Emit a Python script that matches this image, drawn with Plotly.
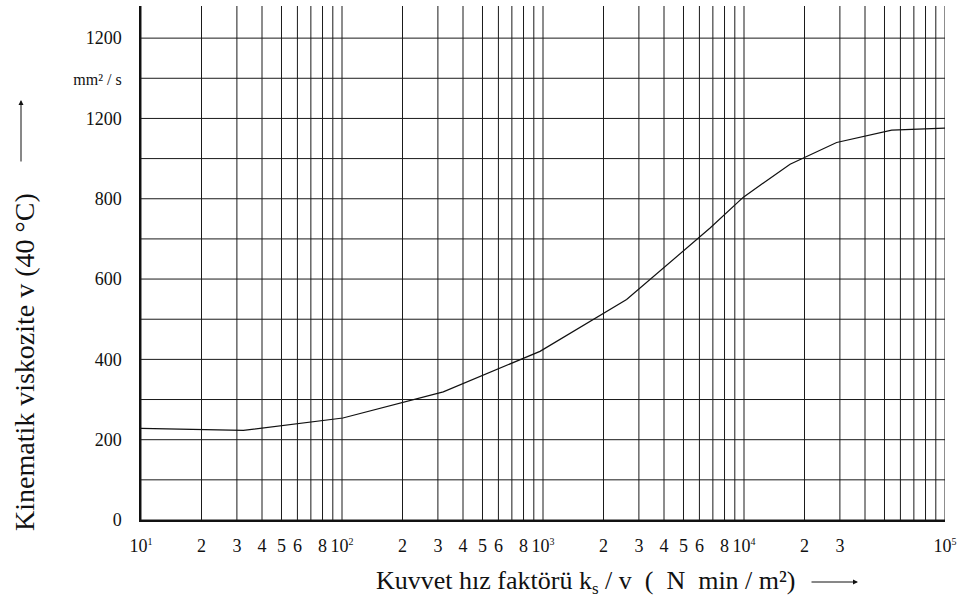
import plotly.graph_objects as go

# Curve data
force_speed_factor = [10, 32.3, 101, 319, 966, 2606, 6780, 9930, 16950, 28900, 54300, 100000]
viscosity = [228, 223, 254, 319, 420, 549, 727, 804, 886, 940, 971, 976]

# Axis ticks
y_tickvals = [0, 200, 400, 600, 800, 1000, 1100, 1200]
y_ticktext = ["0", "200", "400", "600", "800", "1200",
              "<span style='font-size:16px'>mm² / s</span>", "1200"]

def dec(n):
    return "10<sup><span style='font-size:10px'>%d</span></sup>" % n

x_tickvals = [10, 20, 30, 40, 50, 60, 80,
              100, 200, 300, 400, 500, 600, 800,
              1000, 2000, 3000, 4000, 5000, 6000, 8000,
              10000, 20000, 30000, 100000]
x_ticktext = [dec(1), "2", "3", "4", "5", "6", "8",
              dec(2), "2", "3", "4", "5", "6", "8",
              dec(3), "2", "3", "4", "5", "6", "8",
              dec(4), "2", "3", dec(5)]

# Vertical grid lines at every 1..9 x decade
x_gridvals = [m * 10 ** d for d in range(1, 5) for m in range(1, 10)] + [100000]
y_gridvals = list(range(0, 1300, 100))

FONT = "Liberation Serif, Times New Roman, serif"

fig = go.Figure()

fig.add_trace(go.Scatter(
    x=force_speed_factor, y=viscosity, mode="lines",
    line=dict(color="#111", width=1.2), showlegend=False, hoverinfo="skip"))

shapes = []
for xv in x_gridvals:
    shapes.append(dict(type="line", xref="x", yref="paper", x0=xv, x1=xv, y0=0, y1=1,
                       line=dict(color="#1a1a1a", width=1), layer="below"))
for yv in y_gridvals:
    shapes.append(dict(type="line", xref="paper", yref="y", x0=0, x1=1, y0=yv, y1=yv,
                       line=dict(color="#1a1a1a", width=1), layer="below"))

# paper coordinates: plot area spans x 141..945, y 6..520 px
def px(xp):
    return (xp - 141) / 804.0

def py(yp):
    return (520 - yp) / 514.0

fig.update_layout(
    width=962, height=607,
    margin=dict(l=141, r=17, t=6, b=87),
    paper_bgcolor="white", plot_bgcolor="white",
    font=dict(family=FONT, size=18, color="#111"),
    shapes=shapes,
    xaxis=dict(type="log", range=[1, 5], showgrid=False, zeroline=False,
               tickmode="array", tickvals=x_tickvals, ticktext=x_ticktext,
               showline=True, linecolor="#111", linewidth=1.5, mirror=False,
               ticks="", ticklabelstandoff=9),
    yaxis=dict(range=[0, 1280], showgrid=False, zeroline=False,
               tickmode="array", tickvals=y_tickvals, ticktext=y_ticktext,
               showline=True, linecolor="#111", linewidth=1.5, mirror=False,
               ticks="", ticklabelstandoff=14),
    annotations=[
        dict(text="Kuvvet hız faktörü k<sub><span style='font-size:17px'>s</span></sub> / v  (  N  min / m²)",
             xref="paper", yref="paper", x=px(586), y=py(582),
             xanchor="center", yanchor="middle", showarrow=False,
             font=dict(family=FONT, size=26, color="#111")),
        dict(text="Kinematik viskozite v (40 °C)",
             xref="paper", yref="paper", x=px(24), y=py(362), textangle=-90,
             xanchor="center", yanchor="middle", showarrow=False,
             font=dict(family=FONT, size=28, color="#111")),
        dict(text="", xref="paper", yref="paper", x=px(858), y=py(582),
             ax=-48, ay=0, showarrow=True, arrowhead=2, arrowsize=1,
             arrowwidth=1, arrowcolor="#111"),
        dict(text="", xref="paper", yref="paper", x=px(21), y=py(100),
             ax=0, ay=63, showarrow=True, arrowhead=2, arrowsize=1,
             arrowwidth=1, arrowcolor="#111"),
    ],
)

fig.write_html("out.html", config={"displayModeBar": False},
               post_script="document.body.style.margin='0px';")
